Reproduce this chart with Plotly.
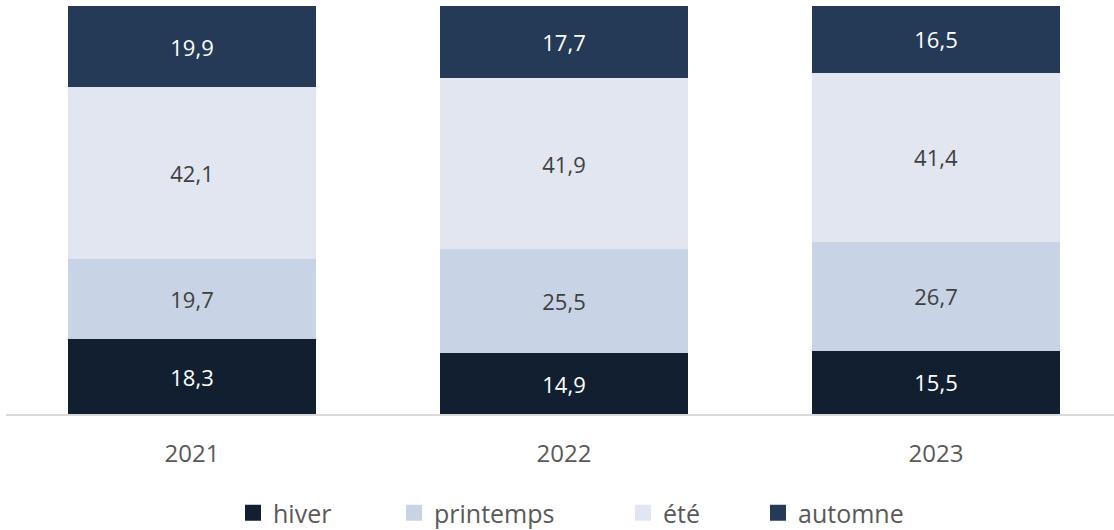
import plotly.graph_objects as go

years = ["2021", "2022", "2023"]
seasons = ["hiver", "printemps", "été", "automne"]
hiver = [18.3, 14.9, 15.5]
printemps = [19.7, 25.5, 26.7]
ete = [42.1, 41.9, 41.4]
automne = [19.9, 17.7, 16.5]

series = [hiver, printemps, ete, automne]
colors = ["#111F31", "#C8D4E5", "#E2E6F0", "#253A56"]
text_colors = ["#FFFFFF", "#404040", "#404040", "#FFFFFF"]
legend_widths = [116, 184, 90, 130]

FONT = "Open Sans"

fig = go.Figure()
for name, vals, col, tcol in zip(seasons, series, colors, text_colors):
    fig.add_trace(go.Bar(
        x=years, y=vals, name=name,
        marker=dict(color=col, line=dict(width=0)),
        texttemplate="%{y:.1f}", textposition="inside",
        insidetextanchor="middle", textangle=0, constraintext="none",
        textfont=dict(family=FONT, size=22, color=tcol),
        showlegend=False, hoverinfo="skip",
    ))

for name, col, lw in zip(seasons, colors, legend_widths):
    fig.add_trace(go.Scatter(
        x=[None], y=[None], mode="markers", name=name,
        marker=dict(symbol="square", size=16, color=col),
        legendwidth=lw, hoverinfo="skip",
    ))

W, H = 1114, 530
ml, mr, mt, mb = 6, 0, 6, 116
cat_px = 372
plot_w = W - ml - mr

fig.update_layout(
    width=W, height=H,
    margin=dict(l=ml, r=mr, t=mt, b=mb, autoexpand=False),
    barmode="stack", bargap=1 - 248 / cat_px,
    separators=", ",
    plot_bgcolor="white", paper_bgcolor="white",
    font=dict(family=FONT, color="#595959"),
    xaxis=dict(
        range=[-0.5, -0.5 + plot_w / cat_px],
        showgrid=False, zeroline=False,
        showline=True, linecolor="#D9D9D9", linewidth=2,
        ticks="", tickfont=dict(family=FONT, size=24, color="#595959"),
        ticklabelstandoff=17,
    ),
    yaxis=dict(range=[0, 100], visible=False, showgrid=False, zeroline=False),
    showlegend=True,
    legend=dict(
        orientation="h", x=(233 - ml) / plot_w, xanchor="left",
        y=-(513 - (H - mb)) / (H - mt - mb), yanchor="middle",
        font=dict(family=FONT, size=25, color="#595959"),
        traceorder="normal", itemclick=False, itemdoubleclick=False,
    ),
)

fig.write_html(
    "out.html",
    config={"displayModeBar": False},
    post_script="document.body.style.margin='0';",
)
